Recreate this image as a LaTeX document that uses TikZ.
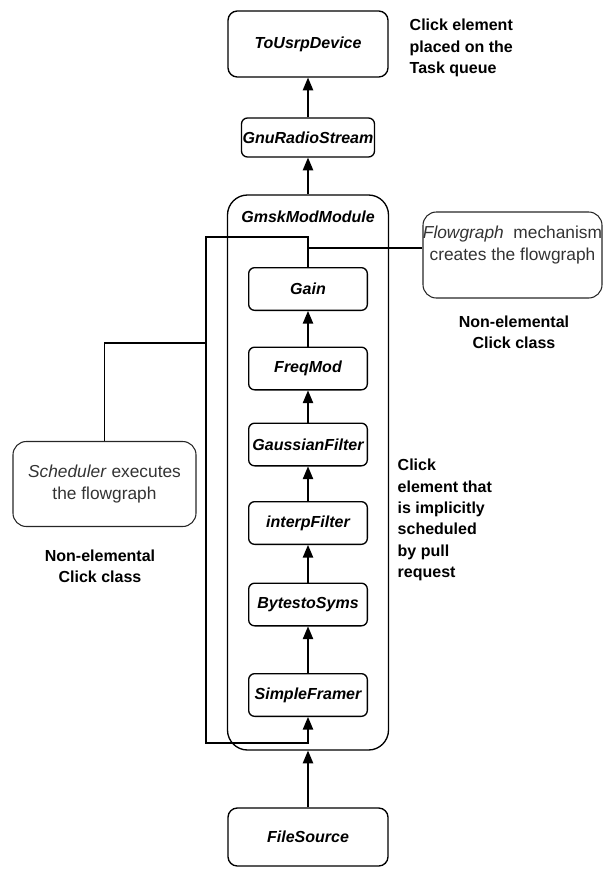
\documentclass[tikz,border=0pt]{standalone}
\usepackage{fontspec}
\setmainfont{Liberation Sans}
\usetikzlibrary{arrows, positioning}

\begin{document}
\begin{tikzpicture}[
    x=0.75pt, y=-0.75pt,
    boxfont/.style={font=\fontsize{12}{14}\selectfont\bfseries\itshape},
    block/.style={rectangle, draw, line width=1pt, inner sep=0pt, text centered, boxfont},
    outer/.style={block, rounded corners=7pt, minimum width=120pt},
    inner/.style={block, rounded corners=4.5pt, minimum width=89pt, minimum height=32pt},
    note/.style={rectangle, rounded corners=10pt, draw=black!85, line width=0.8pt, align=center, text=black!80, font=\fontsize{13}{16.5}\selectfont},
    remark/.style={align=left, font=\fontsize{12}{16}\selectfont\bfseries},
    arrow/.style={line width=1.2pt, ->, >=triangle 45},
    link/.style={line width=1pt}
]
\useasboundingbox (0,0) rectangle (603,871);

% Output chain
\node (usrp) [outer, minimum height=49.5pt] at (308,44) {ToUsrpDevice};
\node (gnu) [block, rounded corners=4.5pt, minimum width=99.75pt, minimum height=29.25pt] at (308,137.5) {GnuRadioStream};
\draw [arrow] (gnu) -- (usrp);

% Module
\node (module) [block, rounded corners=15pt, minimum width=120.75pt, minimum height=416.25pt,
    label={[boxfont, anchor=north, yshift=-9pt]north:GmskModModule}] at (308,472.5) {};
\draw [arrow] (module) -- (gnu);

% Elements inside the module
\node (gain) [inner] at (308,289) {Gain};
\node (freq) [inner] at (308,368.5) {FreqMod};
\node (gauss) [inner] at (308,444.5) {GaussianFilter};
\node (interp) [inner] at (308,523) {interpFilter};
\node (bytes) [inner] at (308,604.5) {BytestoSyms};
\node (simple) [inner] at (308,695) {SimpleFramer};
\draw [arrow] (freq) -- (gain);
\draw [arrow] (gauss) -- (freq);
\draw [arrow] (interp) -- (gauss);
\draw [arrow] (bytes) -- (interp);
\draw [arrow] (simple) -- (bytes);

% Source
\node (file) [outer, minimum height=43.5pt] at (308,837) {FileSource};
\draw [arrow] (file) -- (module);

% Pull loop
\coordinate (loopTL) at (206,237);
\coordinate (loopBL) at (206,743);
\draw [arrow] (gain.north) |- (loopTL) -- (loopBL) -| (simple.south);

% Flowgraph mechanism
\node (flow) [note, minimum width=134.25pt, minimum height=64.5pt,
    label={[note, draw=none, anchor=north, yshift=-7pt]north:\textit{Flowgraph}~ mechanism\\creates the flowgraph}] at (512.5,255) {};
\coordinate (tapF) at (308,248);
\draw [link] (tapF) -- (tapF -| flow.west);

% Scheduler
\node (sched) [note, minimum width=137.25pt, minimum height=63.75pt] at (104.5,484) {\textit{Scheduler} executes\\the flowgraph};
\coordinate (tapS) at (206,343);
\draw [link] (sched.north) |- (tapS);

% Remarks
\node (rtop) [remark, anchor=west] at (405,48) {Click element\\placed on the\\Task queue};
\node (rflow) [remark, align=center] at (514,332) {Non-elemental\\Click class};
\node (rsched) [remark, align=center] at (100,566) {Non-elemental\\Click class};
\node (rpull) [remark, anchor=west] at (393,520) {Click\\element that\\is implicitly\\scheduled\\by pull\\request};

\end{tikzpicture}
\end{document}
